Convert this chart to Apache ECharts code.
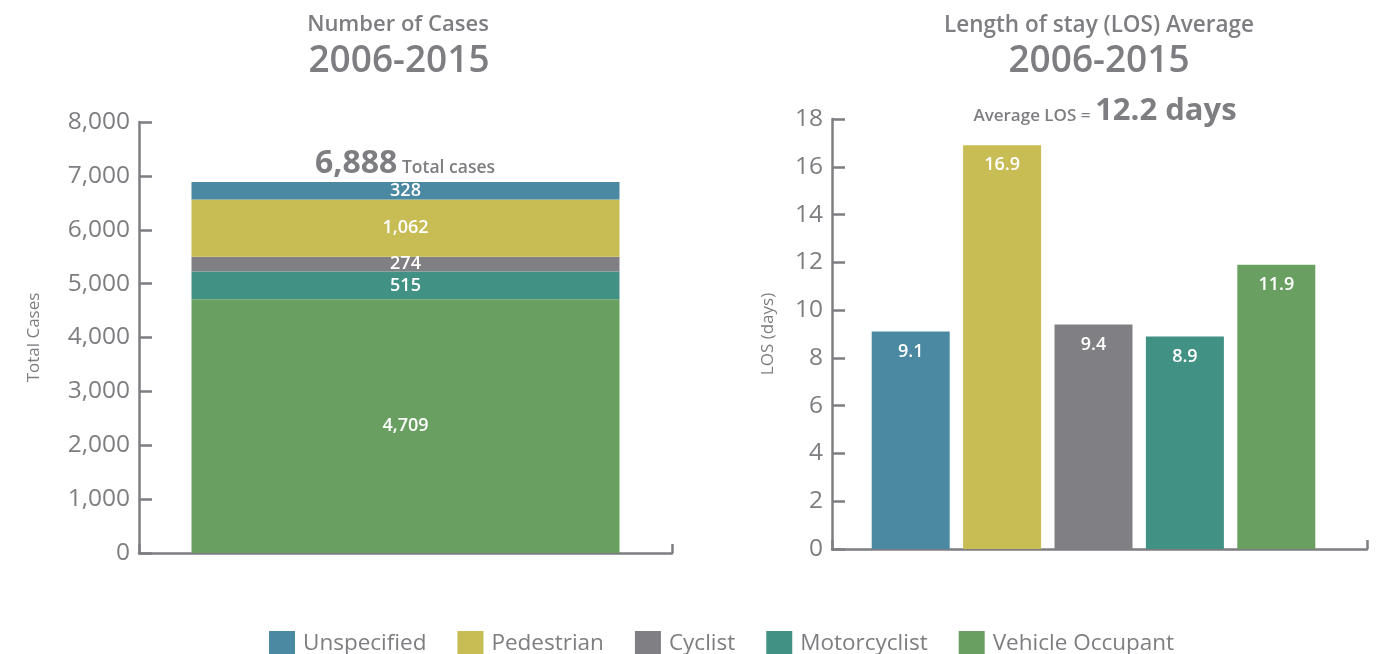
<!DOCTYPE html>
<html>
<head>
<meta charset="utf-8">
<script src="https://cdn.jsdelivr.net/npm/echarts@6/dist/echarts.min.js"></script>
<style>html,body{margin:0;padding:0;background:#fff}#c{width:1385px;height:654px}</style>
</head>
<body>
<div id="c"></div>
<script>
// ---- data ----
const categories = ['Unspecified', 'Pedestrian', 'Cyclist', 'Motorcyclist', 'Vehicle Occupant'];
const caseCounts = [328, 1062, 274, 515, 4709];        // Number of cases 2006-2015
const losDays = [9.1, 16.9, 9.4, 8.9, 11.9];           // Length of stay average
const totalCases = 6888;
const averageLOS = 12.2;
const stackOrder = ['Vehicle Occupant', 'Motorcyclist', 'Cyclist', 'Pedestrian', 'Unspecified'];
const caseTicks = [0, 1000, 2000, 3000, 4000, 5000, 6000, 7000, 8000];
const losTicks = [0, 2, 4, 6, 8, 10, 12, 14, 16, 18];

const colors = {
  'Unspecified': '#4a89a1',
  'Pedestrian': '#c8bc55',
  'Cyclist': '#808084',
  'Motorcyclist': '#419284',
  'Vehicle Occupant': '#69a062'
};
const GRAY = '#7e7e82';
const FONT = '"Open Sans", sans-serif';

const chart = echarts.init(document.getElementById('c'));

const stackSeries = stackOrder.map(name => ({
  name: name,
  type: 'bar',
  stack: 'cases',
  xAxisIndex: 0, yAxisIndex: 0,
  barWidth: 428,
  itemStyle: { color: colors[name] },
  label: {
    show: true, position: 'inside', color: '#fff', fontFamily: FONT,
    fontSize: 18, fontWeight: 600,
    formatter: p => p.value.toLocaleString('en-US')
  },
  data: [caseCounts[categories.indexOf(name)]]
}));

const option = {
  animation: false,
  textStyle: { fontFamily: FONT },
  title: [
    { text: 'Number of Cases', left: 393, top: 9, textAlign: 'center',
      textStyle: { color: GRAY, fontSize: 22, fontWeight: 600, fontFamily: FONT } },
    { text: '2006-2015', left: 394, top: 38, textAlign: 'center',
      textStyle: { color: GRAY, fontSize: 37, fontWeight: 600, fontFamily: FONT } },
    { text: 'Length of stay (LOS) Average', left: 1094, top: 9, textAlign: 'center',
      textStyle: { color: GRAY, fontSize: 22.5, fontWeight: 600, fontFamily: FONT } },
    { text: '2006-2015', left: 1094, top: 38, textAlign: 'center',
      textStyle: { color: GRAY, fontSize: 37, fontWeight: 600, fontFamily: FONT } },
    { text: '{big|' + totalCases.toLocaleString('en-US') + '} {small|Total cases}', left: 400, top: 143, textAlign: 'center',
      textStyle: { rich: {
        big: { color: GRAY, fontSize: 32, fontWeight: 700, fontFamily: FONT },
        small: { color: GRAY, fontSize: 17.5, fontWeight: 600, fontFamily: FONT, padding: [9, 0, 0, 0] }
      } } },
    { text: '{small|Average LOS =} {big|' + averageLOS + ' days}', left: 1100, top: 91, textAlign: 'center',
      textStyle: { rich: {
        big: { color: GRAY, fontSize: 31, fontWeight: 700, fontFamily: FONT },
        small: { color: GRAY, fontSize: 17, fontWeight: 600, fontFamily: FONT, padding: [9, 0, 0, 0] }
      } } }
  ],
  legend: {
    data: categories,
    left: 264, top: 626,
    itemWidth: 26, itemHeight: 26, itemGap: 31,
    icon: 'rect',
    textStyle: { color: GRAY, fontSize: 22.5, fontFamily: FONT, padding: [0, 0, 0, 3] },
    selectedMode: false
  },
  grid: [
    { left: 139, width: 533, top: 122, bottom: 101 },
    { left: 832, width: 535, top: 119, bottom: 105 },
    { left: 865, width: 457, top: 119, bottom: 105 }
  ],
  xAxis: [
    { gridIndex: 0, type: 'category', data: ['All'],
      axisLine: { lineStyle: { color: GRAY, width: 2.5 } },
      axisTick: { show: true, inside: true, length: 9, lineStyle: { color: GRAY, width: 2.5 } },
      axisLabel: { show: false } },
    { gridIndex: 1, type: 'value', min: 0, max: 1, interval: 1,
      axisLine: { show: true, lineStyle: { color: GRAY, width: 2.5 } },
      axisTick: { show: true, inside: true, length: 9, lineStyle: { color: GRAY, width: 2.5 } },
      axisLabel: { show: false }, splitLine: { show: false } },
    { gridIndex: 2, type: 'category', data: categories,
      axisLine: { show: false }, axisTick: { show: false }, axisLabel: { show: false } }
  ],
  yAxis: [
    { gridIndex: 0, type: 'value', min: 0, max: 8000, interval: 1000,
      name: 'Total Cases', nameLocation: 'middle', nameGap: 96, nameRotate: 90,
      nameTextStyle: { color: GRAY, fontSize: 17, fontFamily: FONT },
      axisLine: { show: true, lineStyle: { color: GRAY, width: 2.5 } },
      axisTick: { show: true, inside: true, length: 13, lineStyle: { color: GRAY, width: 2.5 } },
      axisLabel: { color: GRAY, fontSize: 24.5, fontWeight: 500, fontFamily: FONT, margin: 9,
        formatter: v => v.toLocaleString('en-US') },
      splitLine: { show: false } },
    { gridIndex: 1, type: 'value', min: 0, max: 18, interval: 2,
      name: 'LOS (days)', nameLocation: 'middle', nameGap: 55, nameRotate: 90,
      nameTextStyle: { color: GRAY, fontSize: 17, fontFamily: FONT },
      axisLine: { show: true, lineStyle: { color: GRAY, width: 2.5 } },
      axisTick: { show: true, inside: true, length: 13, lineStyle: { color: GRAY, width: 2.5 } },
      axisLabel: { color: GRAY, fontSize: 24.5, fontWeight: 500, fontFamily: FONT, margin: 9 },
      splitLine: { show: false } },
    { gridIndex: 2, type: 'value', min: 0, max: 18, interval: 2, show: false }
  ],
  series: stackSeries.concat([
    { name: 'LOS', type: 'bar', xAxisIndex: 2, yAxisIndex: 2, barWidth: 78,
      label: { show: true, position: 'insideTop', distance: 11, color: '#fff', fontFamily: FONT,
        fontSize: 18, fontWeight: 600 },
      data: losDays.map((v, i) => ({ value: v, itemStyle: { color: colors[categories[i]] } })) }
  ])
};
chart.setOption(option);
</script>
</body>
</html>
